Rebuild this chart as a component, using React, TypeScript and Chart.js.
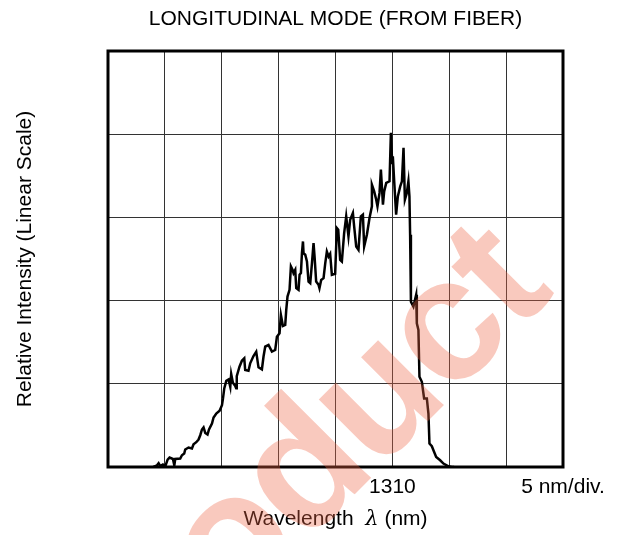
import React, { useEffect, useRef } from 'react';
import { Chart, registerables } from 'chart.js';

Chart.register(...registerables);

const FONT = "'Liberation Sans', Arial, Helvetica, sans-serif";

const chartTitle = 'LONGITUDINAL MODE (FROM FIBER)';
const yAxisLabel = 'Relative Intensity (Linear Scale)';
const xAxisLabelParts = ['Wavelength  ', 'λ', ' (nm)'];
const watermarkText = 'Product';

const xMin = 1285;
const xMax = 1325;
const xStep = 5;
const yMin = 0;
const yMax = 5;
const xTickLabels: Record<number, string> = { 1310: '1310', 1325: '5 nm/div.' };

const wavelength = [
  1288.98, 1289.31, 1289.45, 1289.60, 1289.83, 1290.04, 1290.24, 1290.41, 1290.71, 1290.83,
  1290.91, 1291.35, 1291.50, 1291.70, 1291.79, 1292.08, 1292.38, 1292.52, 1292.76, 1292.96,
  1293.11, 1293.26, 1293.40, 1293.55, 1293.75, 1293.88, 1294.14, 1294.28, 1294.52, 1294.81,
  1295.02, 1295.11, 1295.22, 1295.40, 1295.60, 1295.75, 1295.83, 1295.98, 1296.19, 1296.27,
  1296.32, 1296.56, 1296.77, 1296.98, 1297.06, 1297.35, 1297.50, 1297.79, 1298.03, 1298.23,
  1298.53, 1298.67, 1298.82, 1299.11, 1299.41, 1299.70, 1299.85, 1300.08, 1300.20, 1300.38,
  1300.58, 1300.67, 1300.78, 1300.96, 1301.08, 1301.22, 1301.31, 1301.46, 1301.55, 1301.75,
  1301.84, 1301.96, 1302.05, 1302.14, 1302.19, 1302.34, 1302.49, 1302.63, 1302.78, 1302.93,
  1303.07, 1303.16, 1303.30, 1303.51, 1303.59, 1303.74, 1303.95, 1304.10, 1304.24, 1304.39,
  1304.53, 1304.68, 1304.97, 1305.12, 1305.24, 1305.41, 1305.56, 1305.76, 1305.94, 1306.14,
  1306.29, 1306.53, 1306.64, 1306.82, 1307.02, 1307.23, 1307.41, 1307.52, 1307.76, 1307.99,
  1308.20, 1308.20, 1308.40, 1308.58, 1308.69, 1308.87, 1308.99, 1309.17, 1309.28, 1309.46,
  1309.75, 1309.87, 1309.98, 1310.04, 1310.16, 1310.33, 1310.48, 1310.69, 1310.84, 1310.98,
  1311.10, 1311.27, 1311.41, 1311.50, 1311.56, 1311.63, 1311.63, 1311.85, 1312.09, 1312.15,
  1312.29, 1312.38, 1312.59, 1312.79, 1313.03, 1313.17, 1313.26, 1313.47, 1313.61, 1313.85,
  1314.20, 1314.49, 1314.93, 1315.23, 1315.43,
];

const intensity = [
  0.00, 0.02, 0.045, 0.01, 0.03, 0.01, 0.089, 0.113, 0.096, 0.02,
  0.096, 0.101, 0.141, 0.161, 0.210, 0.234, 0.222, 0.273, 0.298, 0.330,
  0.382, 0.451, 0.475, 0.410, 0.390, 0.451, 0.523, 0.595, 0.643, 0.675,
  0.743, 0.824, 0.945, 1.036, 1.053, 0.964, 1.117, 1.012, 0.972, 0.948,
  1.093, 1.205, 1.277, 1.306, 1.165, 1.157, 1.246, 1.334, 1.386, 1.198,
  1.173, 1.325, 1.446, 1.466, 1.386, 1.406, 1.566, 1.607, 1.828, 1.695,
  1.707, 1.888, 2.048, 2.129, 2.410, 2.370, 2.330, 2.370, 2.149, 2.129,
  2.310, 2.330, 2.571, 2.711, 2.571, 2.551, 2.470, 2.229, 2.210, 2.451,
  2.692, 2.530, 2.229, 2.189, 2.149, 2.249, 2.270, 2.451, 2.590, 2.530,
  2.563, 2.310, 2.322, 2.872, 2.852, 2.490, 2.470, 2.812, 3.012, 2.771,
  2.972, 3.053, 2.892, 2.651, 2.611, 3.012, 3.033, 2.651, 2.792, 2.993,
  3.133, 3.394, 3.313, 3.213, 3.133, 3.294, 3.575, 3.153, 3.313, 3.414,
  3.434, 4.017, 3.655, 3.735, 3.434, 3.033, 3.253, 3.373, 3.434, 3.836,
  3.213, 3.294, 3.434, 3.253, 2.792, 2.651, 1.988, 1.928, 2.069, 1.728,
  1.647, 1.084, 1.024, 0.824, 0.824, 0.643, 0.282, 0.249, 0.201, 0.120,
  0.081, 0.041, 0.008, 0, 0,
];

const decorPlugin = {
  id: 'decor',
  afterDraw(chart: any) {
    const ctx = chart.ctx as CanvasRenderingContext2D;
    const { left, right, top, bottom } = chart.chartArea;
    const cx = (left + right) / 2;
    const cy = (top + bottom) / 2;

    // frame
    ctx.save();
    ctx.strokeStyle = '#000';
    ctx.lineWidth = 3;
    ctx.strokeRect(left, top, right - left, bottom - top);
    ctx.restore();

    // title
    ctx.save();
    ctx.fillStyle = '#000';
    ctx.font = `21px ${FONT}`;
    ctx.textAlign = 'center';
    ctx.textBaseline = 'alphabetic';
    ctx.fillText(chartTitle, cx, 17);
    ctx.restore();

    // y label
    ctx.save();
    ctx.fillStyle = '#000';
    ctx.font = `21px ${FONT}`;
    ctx.textAlign = 'center';
    ctx.textBaseline = 'alphabetic';
    ctx.translate(23, cy);
    ctx.rotate(-Math.PI / 2);
    ctx.fillText(yAxisLabel, 0, 0);
    ctx.restore();

    // x label
    ctx.save();
    ctx.fillStyle = '#000';
    ctx.textBaseline = 'alphabetic';
    ctx.textAlign = 'left';
    const fonts = [`21px ${FONT}`, `italic 21px 'DejaVu Serif', serif`, `21px ${FONT}`];
    const widths = xAxisLabelParts.map((t, i) => {
      ctx.font = fonts[i];
      return ctx.measureText(t).width;
    });
    const total = widths.reduce((a, b) => a + b, 0);
    let x = cx - total / 2;
    xAxisLabelParts.forEach((t, i) => {
      ctx.font = fonts[i];
      ctx.fillText(t, x, 517);
      x += widths[i];
    });
    ctx.restore();

    // watermark
    ctx.save();
    ctx.fillStyle = 'rgba(238,100,70,0.35)';
    ctx.font = `bold 175px ${FONT}`;
    try {
      (ctx as any).letterSpacing = '-4px';
    } catch (e) {
      /* ignore */
    }
    ctx.textAlign = 'left';
    ctx.textBaseline = 'alphabetic';
    ctx.translate(98, 735);
    ctx.rotate(-Math.PI / 4);
    ctx.fillText(watermarkText, 0, 0);
    ctx.restore();
  },
};

export default function App() {
  const ref = useRef<HTMLCanvasElement | null>(null);

  useEffect(() => {
    if (!ref.current) return;
    const points = wavelength.map((w, i) => ({ x: w, y: intensity[i] }));
    const chart = new Chart(ref.current, {
      type: 'scatter',
      data: {
        datasets: [
          {
            data: points,
            showLine: true,
            borderColor: '#000',
            borderWidth: 2.5,
            pointRadius: 0,
            tension: 0,
            fill: false,
          },
        ],
      },
      options: {
        animation: false,
        responsive: false,
        maintainAspectRatio: false,
        layout: { padding: { top: 43, left: 100, right: 52, bottom: 0 } },
        plugins: { legend: { display: false }, tooltip: { enabled: false }, title: { display: false } },
        scales: {
          x: {
            type: 'linear',
            min: xMin,
            max: xMax,
            afterFit: (s: any) => {
              s.height = 68;
            },
            grid: { color: '#333', lineWidth: 1, drawTicks: false },
            border: { display: false },
            ticks: {
              stepSize: xStep,
              autoSkip: false,
              maxRotation: 0,
              padding: 8,
              color: '#000',
              font: { family: FONT, size: 21 },
              callback: (v: any) => xTickLabels[Number(v)] ?? '',
            },
          },
          y: {
            min: yMin,
            max: yMax,
            afterFit: (s: any) => {
              s.width = 0;
            },
            grid: { color: '#333', lineWidth: 1, drawTicks: false },
            border: { display: false },
            ticks: { display: false, stepSize: 1 },
          },
        },
      },
      plugins: [decorPlugin],
    });
    return () => chart.destroy();
  }, []);

  return (
    <div style={{ position: 'fixed', left: 8, top: 8, width: 607, height: 527 }}>
      <canvas ref={ref} width={607} height={527} style={{ display: 'block' }} />
    </div>
  );
}
